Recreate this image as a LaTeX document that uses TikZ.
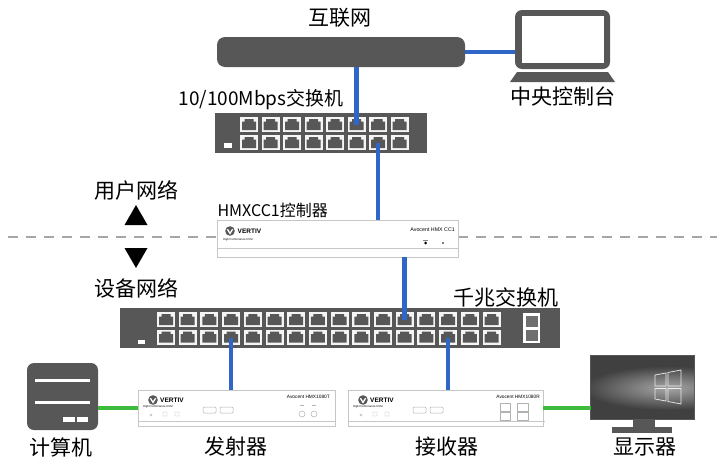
\documentclass[tikz,border=0pt]{standalone}
\usepackage{fontspec}
\setmainfont{Noto Sans CJK SC}
\newfontfamily\panelfont{Liberation Sans}
\definecolor{dev}{HTML}{575757}
\definecolor{scr}{HTML}{404040}
\definecolor{lanblue}{HTML}{2F67C8}
\definecolor{hdmigreen}{HTML}{3DBB3D}

\begin{document}
\begin{tikzpicture}[x=1pt, y=-1pt,
  lbl/.style={font=\fontsize{21}{21}\selectfont},
  dark/.style={fill=dev, inner sep=0, outer sep=0},
  unit/.style={draw=gray!45, line width=0.8pt, fill=white, inner sep=0, outer sep=0},
  lan/.style={lanblue, line width=4.5pt},
  hdmi/.style={hdmigreen, line width=4.5pt},
  tiny/.style={font=\panelfont\fontsize{#1}{#1}\selectfont, inner sep=0},
  rj45/.pic={
    \fill[white!92!gray] (0,0) rectangle (18,15);
    \fill[dev] (2,4.5) -- (4.5,4.5) -- (4.5,2) -- (13.5,2) -- (13.5,4.5) -- (16,4.5) -- (16,13) -- (2,13) -- cycle;
  },
  vlogo/.pic={
    \fill[dev] (0,0) circle (4.8);
    \draw[white, line width=1.3pt] (-2.6,-1.8) -- (0,2.4) -- (2.6,-1.8);
  }]
\useasboundingbox (0,0) rectangle (717,463);

\draw[gray!70, line width=1.2pt, dash pattern=on 10pt off 8pt] (8,237) -- (717,237);

% internet and console
\node[dark, rounded corners=8pt, minimum width=248pt, minimum height=30pt] (inet) at (341,52) {};
\node[lbl] (inetl) at (340,18) {互联网};
\node[dark, rounded corners=7pt, minimum width=95pt, minimum height=59pt] (pc) at (562.5,39.5) {};
\fill[white] (522,16) rectangle (604,63);
\fill[dev] (517,72) -- (608,72) -- (615,82) -- (510,82) -- cycle;
\node[lbl] (pcl) at (563,96) {中央控制台};

% 10/100 switch
\node[dark, minimum width=212pt, minimum height=40pt] (sw) at (321,133) {};
\node[lbl, font=\fontsize{19}{19}\selectfont] (swl) at (261,100) {10/100Mbps交换机};
\fill[white] (224,143) rectangle (232,147.5);
\foreach \i in {0,...,7} {
  \pic at (240+21.5*\i,117) {rj45};
  \pic at (240+21.5*\i,135) {rj45};
  \coordinate (sa\i) at (249+21.5*\i,125);
  \coordinate (sb\i) at (249+21.5*\i,143);
}

% HMX CC1
\node[unit, minimum width=241pt, minimum height=37pt] (ctl) at (337.5,238.5) {};
\node[lbl, font=\fontsize{16}{16}\selectfont, anchor=west] (ctll) at (214,210) {HMXCC1控制器};
\draw[gray!45] (217,248) -- (458,248);
\pic at (230,231) {vlogo};
\node[tiny=6.5, anchor=west] at (237.5,231) {\bfseries VERTIV};
\node[tiny=2.8, anchor=west] at (223,240) {High Performance KVM};
\node[tiny=5.3, anchor=east] at (455,230) {Avocent HMX CC1};
\draw[gray] (423,240) -- (428,240);
\fill (425.5,243) circle (1.5);
\fill (443,243) circle (0.8);

\node[lbl] (up) at (136,190) {用户网络};
\fill (136,205) -- (147.5,225) -- (124.5,225) -- cycle;
\fill (124.5,248) -- (147.5,248) -- (136,268) -- cycle;
\node[lbl] (dn) at (136,288) {设备网络};

% gigabit switch
\node[dark, minimum width=440pt, minimum height=40pt] (gsw) at (340,328) {};
\node[lbl] (gswl) at (506,297) {千兆交换机};
\fill[white] (138,339.5) rectangle (145,343.5);
\foreach \i in {0,...,15} {
  \pic at (157+21.7*\i,312) {rj45};
  \pic at (157+21.7*\i,329.5) {rj45};
  \coordinate (ga\i) at (166+21.7*\i,320);
  \coordinate (gb\i) at (166+21.7*\i,337.5);
}
\fill[white] (523,313) rectangle (540,343);
\fill[gray!60!dev] (525.5,315.5) rectangle (537.5,326.5);
\fill[gray!60!dev] (525.5,329.5) rectangle (537.5,340.5);

% transmitter and receiver
\node[unit, minimum width=197pt, minimum height=36pt] (tx) at (236.5,408) {};
\node[unit, minimum width=195pt, minimum height=36pt] (rx) at (445.5,408) {};
\node[lbl] (txl) at (236,447) {发射器};
\node[lbl] (rxl) at (447,447) {接收器};
\foreach \dx/\m in {0/T,210/R} {
  \begin{scope}[xshift=\dx]
    \draw[gray!45] (138,421) -- (335,421);
    \pic at (153,400) {vlogo};
    \node[tiny=6.5, anchor=west] at (160,400) {\bfseries VERTIV};
    \node[tiny=2.8, anchor=west] at (143,406.5) {High Performance KVM};
    \node[tiny=4.8, anchor=east] at (330,397) {Avocent HMX1080\m};
    \draw[gray!60, line width=0.4pt] (151,415) circle (1.2) (163,412) rectangle (167,416) (175,412) rectangle (179,416);
    \draw[gray!60, line width=0.5pt, rounded corners=1pt] (203,407) rectangle (216,413) (220,407) rectangle (233,413);
  \end{scope}
}
\draw[gray!60, line width=0.5pt] (302,414) circle (3) (314,414) circle (3);
\draw[gray!60, line width=0.5pt] (300,405) -- (304,405) (312,405) -- (316,405);
\draw[gray!60, line width=0.5pt] (500,403) rectangle (510,411) (500,412) rectangle (510,420)
  (517,403) rectangle (528,411) (517,412) rectangle (528,420);

% computer and monitor
\node[dark, rounded corners=7pt, minimum width=71pt, minimum height=67pt] (comp) at (62.5,396.5) {};
\fill[white] (35,378.5) rectangle (90,381.5);
\fill[white] (35,400.5) rectangle (90,403.5);
\fill[white] (63,416.5) rectangle (75,421.5);
\fill[white] (77,416.5) rectangle (88,421.5);
\node[lbl] (compl) at (61,447) {计算机};

\node[fill=scr, draw=dev, line width=1.5pt, inner sep=0, outer sep=0, minimum width=104pt, minimum height=64pt] (mon) at (642.5,387.5) {};
\begin{scope}
  \clip (591,356) rectangle (694,419);
  \shade[inner color=gray!70, outer color=scr] (668,388) ellipse (85 and 22);
\end{scope}
\draw[gray!15, line width=0.7pt] (655,375) -- (666,373) -- (666,386) -- (655,386) -- cycle
  (668,372.5) -- (681,370) -- (681,386) -- (668,386) -- cycle
  (655,388.5) -- (666,388.5) -- (666,401) -- (655,399) -- cycle
  (668,388.5) -- (681,388.5) -- (681,404) -- (668,401.5) -- cycle;
\fill[dev] (633,419) rectangle (655,428);
\fill[dev] (612,427) rectangle (672,433);
\node[lbl] (monl) at (645,447) {显示器};

% links
\draw[lan] (inet.east) -- (inet.east -| pc.west);
\draw[lan] (inet.south -| sa5) -- (sa5);
\draw[lan] (sb6) -- (sb6 |- ctl.north);
\draw[lan] (ctl.south -| ga11) -- (ga11);
\draw[lan] (gb3) -- (gb3 |- tx.north);
\draw[lan] (gb13) -- (gb13 |- rx.north);
\draw[hdmi] (tx.west -| comp.east) -- (tx.west);
\draw[hdmi] (rx.east) -- (rx.east -| mon.west);
\end{tikzpicture}
\end{document}
